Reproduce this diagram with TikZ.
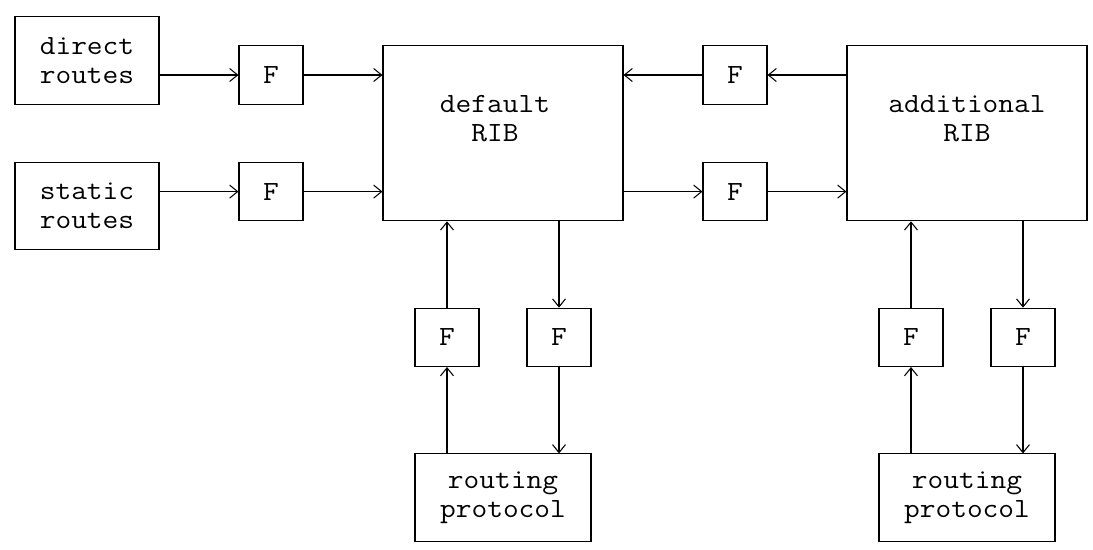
\documentclass[tikz,border=0pt]{standalone}
\usepackage{fontspec}
\setmonofont{Latin Modern Mono}[FakeStretch=1.1]
\usetikzlibrary{arrows.meta}
\begin{document}
\begin{tikzpicture}[x=0.32cm,y=-0.583cm,
    texto/.style={font=\ttfamily\fontsize{15.8}{16.5}\selectfont},
    caja/.style={draw,line width=0.6pt,inner sep=0pt,align=center,texto},
    fil/.style={caja,minimum width=1.28cm,minimum height=1.166cm},
    rib/.style={caja,minimum width=4.8cm,minimum height=3.498cm},
    ruta/.style={caja,minimum width=2.88cm,minimum height=1.749cm},
    proto/.style={caja,minimum width=3.52cm,minimum height=1.749cm},
    flecha/.style={-{Straight Barb[length=1.6mm,width=2.6mm]},line width=0.6pt}]%Rutas, filtros F y las dos RIB
        \useasboundingbox (-0.9375,-0.573) rectangle (67.375,18.295);

        \node[ruta] (D) at (4.5,1.5) {direct\\routes};
        \node[ruta] (S) at (4.5,6.5) {static\\routes};

        \node[fil] (F1) at (16,2) {F};
        \node[fil] (F2) at (16,6) {F};
        \node[fil] (F3) at (45,2) {F};
        \node[fil] (F4) at (45,6) {F};

        \node[rib,label={[texto,align=center,yshift=0.2915cm,xshift=-0.16cm]center:default\\RIB}] (R1) at (30.5,4) {};
        \node[rib,label={[texto,align=center,yshift=0.2915cm]center:additional\\RIB}] (R2) at (59.5,4) {};

        \node[fil] (F5) at (27,11) {F};
        \node[fil] (F6) at (34,11) {F};
        \node[fil] (F7) at (56,11) {F};
        \node[fil] (F8) at (63,11) {F};

        \node[proto] (P1) at (30.5,16.5) {routing\\protocol};
        \node[proto] (P2) at (59.5,16.5) {routing\\protocol};

        \draw[flecha] (D.east |- F1.west) -- (F1.west);
        \draw[flecha] (F1.east) -- (F1.east -| R1.west);
        \draw[flecha] (S.east |- F2.west) -- (F2.west);
        \draw[flecha] (F2.east) -- (F2.east -| R1.west);

        \draw[flecha] (R2.west |- F3.east) -- (F3.east);
        \draw[flecha] (F3.west) -- (F3.west -| R1.east);
        \draw[flecha] (R1.east |- F4.west) -- (F4.west);
        \draw[flecha] (F4.east) -- (F4.east -| R2.west);

        \draw[flecha] (F5.north) -- (F5.north |- R1.south);
        \draw[flecha] (R1.south -| F6.north) -- (F6.north);
        \draw[flecha] (P1.north -| F5.south) -- (F5.south);
        \draw[flecha] (F6.south) -- (F6.south |- P1.north);

        \draw[flecha] (F7.north) -- (F7.north |- R2.south);
        \draw[flecha] (R2.south -| F8.north) -- (F8.north);
        \draw[flecha] (P2.north -| F7.south) -- (F7.south);
        \draw[flecha] (F8.south) -- (F8.south |- P2.north);
    \end{tikzpicture}
\end{document}
